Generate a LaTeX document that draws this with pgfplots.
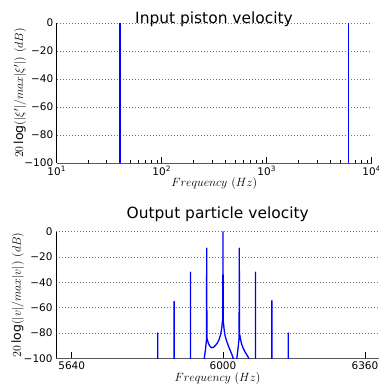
\documentclass[border=0pt]{standalone}
\usepackage{fontspec}
\setmainfont{DejaVu Sans}
\usepackage{pgfplots}
\pgfplotsset{compat=1.18}
\begin{document}
\begin{tikzpicture}[x=1bp,y=1bp]
\pgfplotsset{
  mystyle/.style={
    scale only axis,
    axis x line*=bottom, axis y line*=left,
    axis line style={black, line width=0.8bp},
    x axis line style={black!65},
    ymin=-100, ymax=0,
    ytick={-100,-80,-60,-40,-20,0},
    yticklabels={−100,−80,−60,−40,−20,0},
    ytick style={draw=none},
    ymajorgrids,
    grid style={black!55, line width=0.6bp, dash pattern=on 1bp off 2bp},
    tick label style={font=\fontsize{10.5}{12}\selectfont},
    xtick align=inside,
    major tick length=6bp, minor tick length=3bp,
    xtick style={black, line width=0.6bp},
    label style={font=\fontsize{12.5}{14}\selectfont},
    xlabel={$Frequency\ (Hz)$},
  }}
\begin{axis}[mystyle,
  at={(56.7bp,222bp)}, anchor=south west, width=315bp, height=140bp,
  xmode=log, xmin=10, xmax=10000,
  xtick={10,100,1000,10000},
  xticklabels={10\textsuperscript{1},10\textsuperscript{2},10\textsuperscript{3},10\textsuperscript{4}},
  minor xtick={20,30,40,50,60,70,80,90,200,300,400,500,600,700,800,900,2000,3000,4000,5000,6000,7000,8000,9000},
  ylabel={$20\log(|\xi'|/max|\xi'|)\ (dB)$},
  ylabel style={at={(axis description cs:-0.1165,0.5)}, anchor=center},
  xlabel style={at={(axis description cs:0.5,-0.169)}, anchor=base},
]
\addplot[blue, line width=1.3bp] coordinates {(40,-120) (40,0)};
\addplot[blue, line width=1.3bp] coordinates {(6000,-120) (6000,0)};
\end{axis}
\begin{axis}[mystyle,
  at={(56bp,26.7bp)}, anchor=south west, width=323bp, height=126.6bp,
  xmin=5590, xmax=6383,
  xtick={5628.6,6000,6348.6},
  xticklabels={5640,6000,6360},
  ylabel={$20\log(|v|/max|v|)\ (dB)$},
  ylabel style={at={(axis description cs:-0.119,0.5)}, anchor=center},
  xlabel style={at={(axis description cs:0.5,-0.185)}, anchor=base},
]
\addplot[blue, line width=1.3bp, line join=round] coordinates {
(5840,-120) (5840,-80) (5840,-120)
(5880,-120) (5880,-55) (5880,-120)
(5920,-120) (5920,-32) (5920,-120)
(5952,-110) (5954,-100) (5957,-93) (5959.5,-85) (5960,-13) (5960.5,-84)
(5964,-88) (5968,-90.5) (5972,-91.6) (5976,-91.4) (5981,-90) (5986,-88)
(5990,-85.5) (5994,-81.5) (5997,-76) (5999.5,-68) (6000,0) (6000.5,-70)
(6003,-78) (6005,-82) (6009,-86.5) (6013,-90) (6018,-94) (6023,-98)
(6027,-102) (6030,-110) (6032,-106) (6034,-100) (6037,-92) (6039.5,-84)
(6040,-13) (6040.5,-80) (6043,-85) (6046,-89) (6050,-92.4) (6055,-95.5)
(6060,-98) (6065,-101) (6070,-115)
(6080,-120) (6080,-32) (6080,-120)
(6120,-120) (6120,-54.5) (6120,-120)
(6160,-120) (6160,-80) (6160,-120)
};
\end{axis}
\node[font=\fontsize{15.5}{18}\selectfont, anchor=base] at (214bp,361.7bp) {Input piston velocity};
\node[font=\fontsize{15.5}{18}\selectfont, anchor=base] at (217.7bp,166.7bp) {Output particle velocity};
\pgfresetboundingbox
\path (0,0) rectangle (379bp,385bp);
\end{tikzpicture}
\end{document}
